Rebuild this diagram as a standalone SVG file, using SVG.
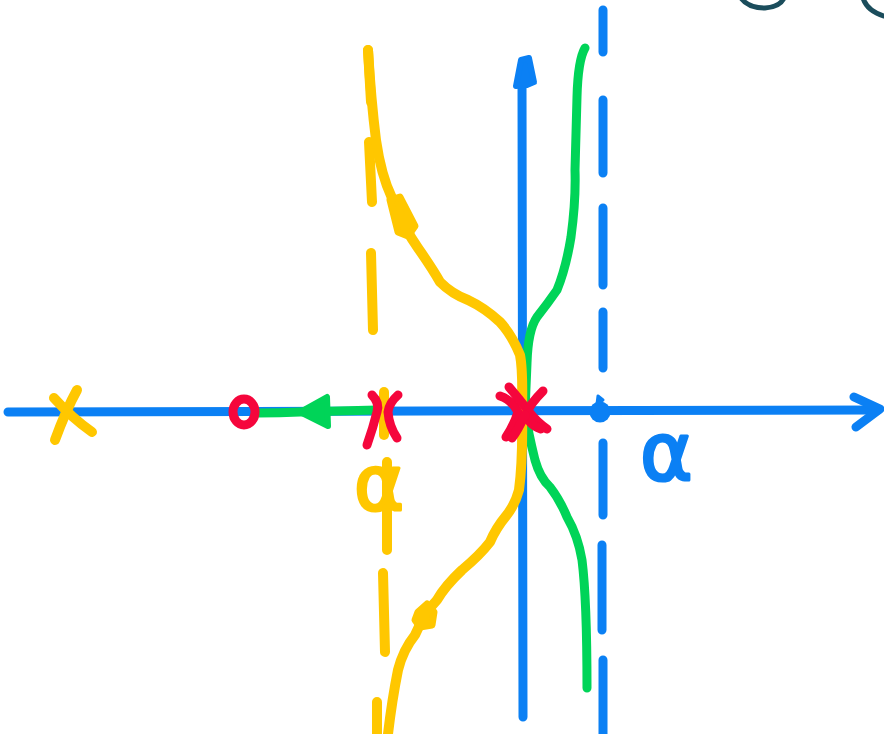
<svg xmlns="http://www.w3.org/2000/svg" width="884" height="734" viewBox="0 0 884 734">
<style>
.ax{fill:none;stroke:#0b80f4;stroke-width:9;stroke-linecap:round;stroke-linejoin:round}
.yl{fill:none;stroke:#ffc700;stroke-width:10;stroke-linecap:round;stroke-linejoin:round}
.gr{fill:none;stroke:#00d458;stroke-width:9;stroke-linecap:round;stroke-linejoin:round}
.rd{fill:none;stroke:#f5063c;stroke-width:9;stroke-linecap:round;stroke-linejoin:round}
.ink{fill:none;stroke:#1b4d5c;stroke-width:5;stroke-linecap:round}
.lbl{font-family:"DejaVu Sans",sans-serif;stroke-width:3;stroke-linejoin:round}
</style>
<rect width="884" height="734" fill="#ffffff"/>
<g id="corner-ink">
<path class="ink" d="M741,-2 Q748,8 765,8 Q780,7 784,-2"/>
<path class="ink" d="M863,-2 Q867,11 884,16"/>
</g>
<g id="axes">
<path class="ax" d="M8,412 L878,410"/>
<path class="ax" d="M854,397 L880,409 L856,427"/>
<path class="ax" d="M523,717 L522,80"/>
<path d="M516,86 L521,60 L529,58 L534,82 L527,85 Z" fill="#0b80f4" stroke="#0b80f4" stroke-width="6" stroke-linejoin="round"/>
</g>
<g id="asymptote-blue">
<path class="ax" d="M603,10 L603,52 M603,100 L603,173 M603,208 L603,285 M603,312 L603,368 M603,443 L603,515 M602,545 L602,630 M603,660 L603,734"/>
<circle cx="600" cy="412" r="10.5" fill="#0b80f4"/>
<path d="M597,404 L598,396 L603,400 Z" fill="#0b80f4" stroke="#0b80f4" stroke-width="3" stroke-linejoin="round"/>
</g>
<g id="asymptote-yellow">
<path class="yl" d="M368,50 L371,102 M369,142 L372,202 M371,253 L373,330 M387,462 L387,550 M383,573 L385,652 M377,702 L377,734"/>
</g>
<g id="label-alpha-blue">
<text class="lbl" x="640" y="480" font-size="80" fill="#0b80f4" stroke="#0b80f4">α</text>
</g>
<g id="label-alpha-yellow">
<text class="lbl" x="354" y="510" font-size="76" fill="#ffc700" stroke="#ffc700">α</text>
</g>
<g id="connectors">
<path class="gr" d="M377,410 L300,412 Q280,413 258,413"/>
<path d="M300,412 L327,397 L328,426 Z" fill="#00d458" stroke="#00d458" stroke-width="6" stroke-linejoin="round"/>
<path class="gr" d="M585,48 Q578,60 577,97 L575,170 Q576,200 571,237 Q566,268 557,290 Q548,303 537,317 Q528,330 527,363 L525,411 Q528,432 535,460 Q540,478 550,487 Q560,500 567,517 Q578,536 582,560 Q587,600 587,688"/>
<path class="yl" d="M368,50 Q371,100 376,140 Q381,175 392,198 Q405,230 418,248 Q432,268 440,282 Q452,294 468,300 Q485,308 500,322 Q512,335 520,355 Q523,370 522,411 Q523,460 519,490 Q515,505 506,516 Q496,528 490,542 Q480,555 462,570 Q445,586 437,600 Q425,612 415,635 Q403,650 398,670 Q392,700 388,734"/>
<path d="M390,200 L400,197 L415,226 L408,236 L398,232 Z" fill="#ffc700" stroke="#ffc700" stroke-width="7" stroke-linejoin="round"/>
<path d="M427,604 L434,612 L432,625 L420,627 L415,620 L418,612 Z" fill="#ffc700" stroke="#ffc700" stroke-width="7" stroke-linejoin="round"/>
<path class="yl" d="M384,392 L384,435"/>
</g>
<g id="pole-far-left">
<path class="yl" d="M54,398 Q72,418 92,432"/>
<path class="yl" d="M77,390 Q66,410 55,440"/>
</g>
<g id="zero">
<ellipse class="rd" cx="244" cy="412" rx="11" ry="13"/>
</g>
<g id="pole-alpha">
<path class="rd" d="M372,395 Q380,403 377,412 Q373,428 367,445"/>
<path class="rd" d="M398,395 Q389,403 388,412 Q389,426 397,438"/>
</g>
<g id="pole-origin">
<path class="rd" d="M500,396 Q512,400 518,412 Q514,425 506,437"/>
<path class="rd" d="M509,387 Q520,400 530,413 Q537,422 547,429"/>
<path class="rd" d="M543,391 Q530,404 526,414 Q528,424 541,429"/>
<path class="rd" d="M525,415 Q518,430 512,438"/>
</g>
</svg>
